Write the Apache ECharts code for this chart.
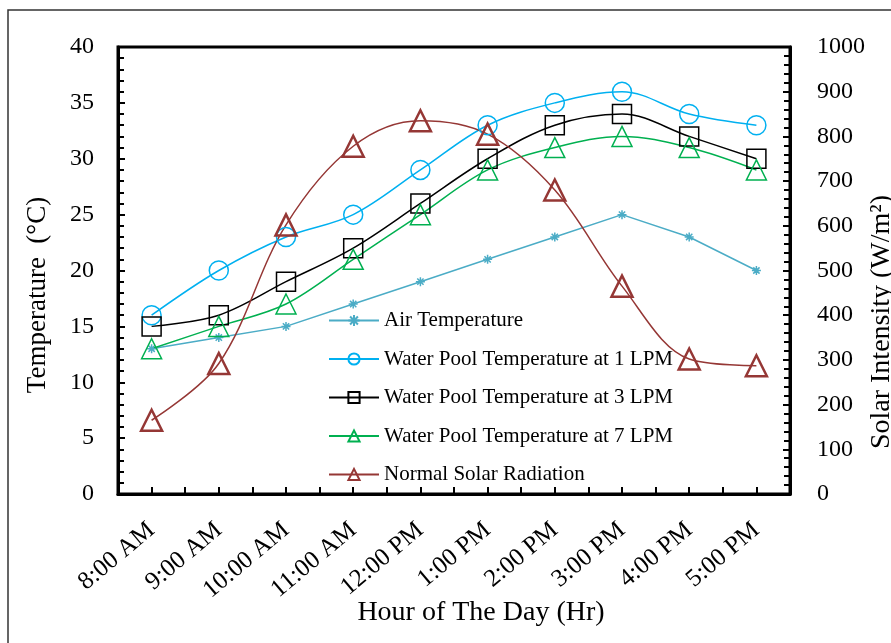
<!DOCTYPE html>
<html>
<head>
<meta charset="utf-8">
<script src="https://cdn.jsdelivr.net/npm/echarts@6/dist/echarts.min.js"></script>
<style>
  html, body { margin: 0; padding: 0; background: #fff; }
  #chart { width: 891px; height: 643px; }
</style>
</head>
<body>
<div id="chart"></div>
<script>
// Hourly readings, 8 AM to 5 PM
const hours = ['8:00 AM', '9:00 AM', '10:00 AM', '11:00 AM', '12:00 PM',
               '1:00 PM', '2:00 PM', '3:00 PM', '4:00 PM', '5:00 PM'];
const airTemp   = [13, 14, 15, 17, 19, 21, 23, 25, 23, 20];
const pool1LPM  = [16, 20, 23, 25, 29, 33, 35, 36, 34, 33];
const pool3LPM  = [15, 16, 19, 22, 26, 30, 33, 34, 32, 30];
const pool7LPM  = [13, 15, 17, 21, 25, 29, 31, 32, 31, 29];
const solarRad  = [165, 292, 602, 778, 835, 805, 680, 465, 302, 287];

const seriesNames = [
  'Air Temperature',
  'Water Pool Temperature at 1 LPM',
  'Water Pool Temperature at 3 LPM',
  'Water Pool Temperature at 7 LPM',
  'Normal Solar Radiation'
];

const FONT = '"Liberation Serif", "DejaVu Serif", serif';
const asterisk = 'path://M0,5L10,5M5,0L5,10M1.5,1.5L8.5,8.5M8.5,1.5L1.5,8.5';

function lineSeries(name, data, color, symbol, size, opts) {
  return Object.assign({
    name: name,
    type: 'line',
    data: data,
    symbol: symbol,
    symbolSize: size,
    smooth: 0.35,
    lineStyle: { color: color, width: 1.5 },
    itemStyle: { color: 'rgba(0,0,0,0)', borderColor: color, borderWidth: 1.5 },
    emphasis: { disabled: true },
    animation: false
  }, opts || {});
}

const chart = echarts.init(document.getElementById('chart'), null, { renderer: 'canvas' });

chart.setOption({
  backgroundColor: '#fff',
  animation: false,
  grid: {
    left: 118, right: 101, top: 47, bottom: 149,
    show: true, borderColor: '#000', borderWidth: 3, backgroundColor: 'transparent'
  },
  legend: {
    orient: 'vertical',
    left: 328,
    top: 310,
    padding: 0,
    itemWidth: 50,
    itemHeight: 14,
    itemGap: 17.5,
    data: seriesNames,
    textStyle: { fontFamily: FONT, fontSize: 21, color: '#000' },
    selectedMode: false
  },
  xAxis: [
    {
      type: 'category',
      data: hours,
      boundaryGap: true,
      position: 'bottom',
      axisLine: { show: true, lineStyle: { color: '#000', width: 3 } },
      axisTick: { show: true, inside: true, length: 7, lineStyle: { color: '#000', width: 2 } },
      axisLabel: {
        rotate: 40, margin: 33, interval: 0,
        fontFamily: FONT, fontSize: 25, color: '#000'
      },
      splitLine: { show: false }
    },
    {
      type: 'category',
      data: hours,
      boundaryGap: true,
      position: 'bottom',
      axisLine: { show: false },
      axisTick: { show: true, inside: true, alignWithLabel: true, length: 7, lineStyle: { color: '#000', width: 2 } },
      axisLabel: { show: false },
      splitLine: { show: false }
    }
  ],
  yAxis: [
    {
      type: 'value',
      min: 0, max: 40, interval: 5,
      position: 'left',
      axisLine: { show: true, lineStyle: { color: '#000', width: 3 } },
      axisTick: { show: true, inside: true, length: 7, lineStyle: { color: '#000', width: 2 } },
      minorTick: { show: true, splitNumber: 5, length: 6, lineStyle: { color: '#000', width: 2 } },
      axisLabel: { margin: 24, fontFamily: FONT, fontSize: 24, color: '#000' },
      splitLine: { show: false }
    },
    {
      type: 'value',
      min: 0, max: 1000, interval: 100,
      position: 'right',
      axisLine: { show: true, lineStyle: { color: '#000', width: 3 } },
      axisTick: { show: true, inside: true, length: 7, lineStyle: { color: '#000', width: 2 } },
      minorTick: { show: true, splitNumber: 5, length: 6, lineStyle: { color: '#000', width: 2 } },
      axisLabel: {
        margin: 27, fontFamily: FONT, fontSize: 24, color: '#000',
        formatter: function (v) { return String(v); }
      },
      splitLine: { show: false }
    }
  ],
  series: [
    lineSeries(seriesNames[0], airTemp, '#4BACC6', asterisk, 9, {
      smooth: false,
      itemStyle: { color: '#4BACC6', borderColor: '#4BACC6', borderWidth: 1.5 }
    }),
    lineSeries(seriesNames[1], pool1LPM, '#00B0F0', 'circle', 19),
    lineSeries(seriesNames[2], pool3LPM, '#000000', 'rect', 19),
    lineSeries(seriesNames[3], pool7LPM, '#00B050', 'triangle', 20),
    lineSeries(seriesNames[4], solarRad, '#953735', 'triangle', 21, {
      yAxisIndex: 1,
      itemStyle: { color: 'rgba(0,0,0,0)', borderColor: '#953735', borderWidth: 2.5 }
    })
  ],
  graphic: [
    {
      type: 'rect', silent: true, z: -10,
      shape: { x: 8, y: 10, width: 1000, height: 1000 },
      style: { fill: 'none', stroke: '#333', lineWidth: 1.5 }
    },
    {
      type: 'text', silent: true,
      x: 38, y: 295, rotation: Math.PI / 2,
      style: {
        text: 'Temperature  (°C)', fontFamily: FONT, fontSize: 27, fill: '#000',
        align: 'center', verticalAlign: 'middle'
      }
    },
    {
      type: 'text', silent: true,
      x: 882, y: 322, rotation: Math.PI / 2,
      style: {
        text: 'Solar Intensity (W/m²)', fontFamily: FONT, fontSize: 28, fill: '#000',
        align: 'center', verticalAlign: 'middle'
      }
    },
    {
      type: 'text', silent: true,
      x: 481, y: 613,
      style: {
        text: 'Hour of The Day (Hr)', fontFamily: FONT, fontSize: 28, fill: '#000',
        align: 'center', verticalAlign: 'middle'
      }
    }
  ]
});
</script>
</body>
</html>
